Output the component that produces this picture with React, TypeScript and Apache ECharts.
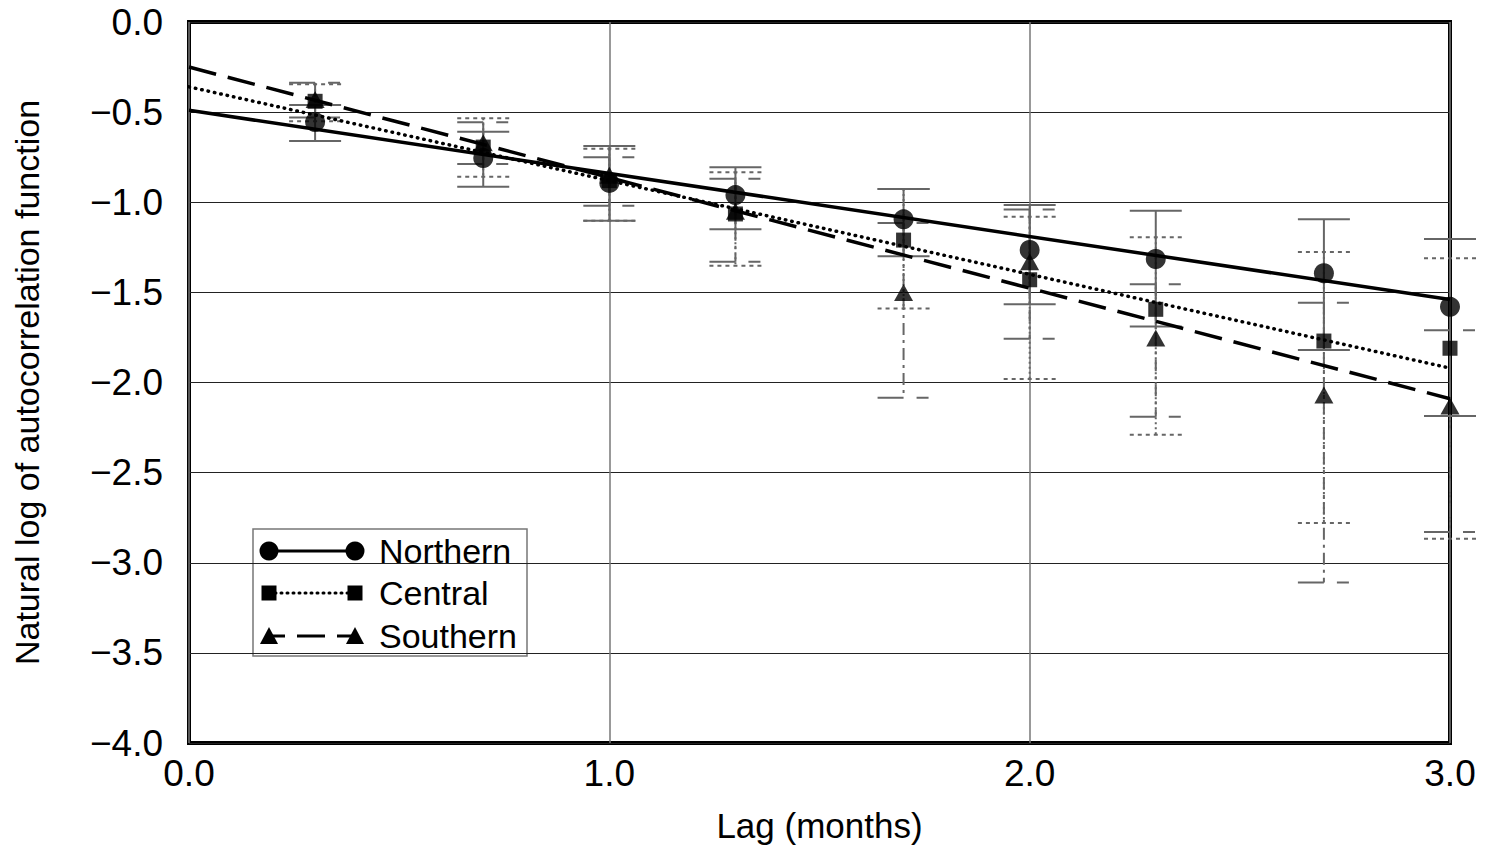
import React, { useEffect, useRef } from "react";
import * as echarts from "echarts";

const lags = [0.3, 0.7, 1.0, 1.3, 1.7, 2.0, 2.3, 2.7, 3.0];

const northernMean = [-0.555, -0.755, -0.893, -0.96, -1.095, -1.265, -1.315, -1.394, -1.58];
const northernUpper = [-0.46, -0.609, -0.688, -0.806, -0.926, -1.015, -1.047, -1.095, -1.204];
const northernLower = [-0.66, -0.914, -1.102, -1.15, -1.3, -1.566, -1.69, -1.82, -2.186];

const centralMean = [-0.44, -0.694, -0.88, -1.065, -1.21, -1.43, -1.594, -1.77, -1.81];
const centralUpper = [-0.346, -0.534, -0.703, -0.834, -0.926, -1.08, -1.194, -1.276, -1.311];
const centralLower = [-0.55, -0.858, -1.102, -1.352, -1.59, -1.98, -2.29, -2.78, -2.867];

const southernMean = [-0.43, -0.67, -0.85, -1.05, -1.5, -1.33, -1.753, -2.07, -2.13];
const southernUpper = [-0.337, -0.556, -0.75, -0.869, -1.115, -1.04, -1.455, -1.557, -1.71];
const southernLower = [-0.53, -0.788, -1.02, -1.33, -2.085, -1.757, -2.19, -3.11, -2.83];

const fitLags = [0, 3];
const northernFit = [-0.49, -1.54];
const centralFit = [-0.36, -1.92];
const southernFit = [-0.25, -2.09];

const seriesNames = ["Northern", "Central", "Southern"];

const FONT = "'Liberation Sans', Arial, Helvetica, sans-serif";
const BAR_COLOR = "#666";

function fmt(v: number) {
  const s = Math.abs(v).toFixed(1);
  return v < 0 ? "\u2212" + s : s;
}

function errorSeries(name: string, lows: number[], highs: number[], vDash: any, capDash: any) {
  return {
    type: "custom",
    name: name + " error",
    z: 2,
    clip: false,
    silent: true,
    data: lags.map((x, i) => [x, lows[i], highs[i]]),
    encode: { x: 0, y: [1, 2] },
    renderItem: (params: any, api: any) => {
      const x = api.value(0);
      const top = api.coord([x, api.value(2)]);
      const bot = api.coord([x, api.value(1)]);
      const hw = 26;
      const base = { stroke: BAR_COLOR, lineWidth: 2, fill: null };
      return {
        type: "group",
        children: [
          {
            type: "line",
            shape: { x1: top[0], y1: top[1], x2: bot[0], y2: bot[1] },
            style: { ...base, lineDash: vDash },
          },
          {
            type: "line",
            shape: { x1: top[0] - hw, y1: top[1], x2: top[0] + hw, y2: top[1] },
            style: { ...base, lineDash: capDash },
          },
          {
            type: "line",
            shape: { x1: bot[0] - hw, y1: bot[1], x2: bot[0] + hw, y2: bot[1] },
            style: { ...base, lineDash: capDash },
          },
        ],
      };
    },
  };
}

function pointSeries(name: string, values: number[], symbol: string, size: any) {
  return {
    type: "scatter",
    name,
    z: 5,
    symbol,
    symbolSize: size,
    itemStyle: { color: "#000" },
    data: lags.map((x, i) => [x, values[i]]),
  };
}

function fitSeries(name: string, values: number[], lineType: any, cap: string) {
  return {
    type: "line",
    name: name + " fit",
    z: 4,
    showSymbol: false,
    symbol: "none",
    silent: true,
    lineStyle: { color: "#000", width: 3.5, type: lineType, cap },
    data: fitLags.map((x, i) => [x, values[i]]),
  };
}

function legendRow(y: number, label: string, kind: number) {
  const x1 = 269;
  const x2 = 355;
  const lineStyles: any[] = [
    { stroke: "#000", lineWidth: 3 },
    { stroke: "#000", lineWidth: 3, lineDash: [1, 5], lineCap: "round" },
    { stroke: "#000", lineWidth: 3, lineDash: [28, 12], lineDashOffset: 12 },
  ];
  const children: any[] = [
    { type: "line", shape: { x1, y1: y, x2, y2: y }, style: lineStyles[kind] },
  ];
  [x1, x2].forEach((cx) => {
    if (kind === 0) {
      children.push({ type: "circle", shape: { cx, cy: y, r: 9.5 }, style: { fill: "#000" } });
    } else if (kind === 1) {
      children.push({ type: "rect", shape: { x: cx - 7.5, y: y - 7.5, width: 15, height: 15 }, style: { fill: "#000" } });
    } else {
      children.push({
        type: "polygon",
        shape: { points: [[cx, y - 9], [cx - 9, y + 8], [cx + 9, y + 8]] },
        style: { fill: "#000" },
      });
    }
  });
  children.push({
    type: "text",
    x: 379,
    y,
    style: { text: label, fontSize: 34, fontFamily: FONT, fill: "#000", verticalAlign: "middle", align: "left" },
  });
  return { type: "group", children };
}

export default function App() {
  const ref = useRef<HTMLDivElement>(null);
  useEffect(() => {
    const chart = echarts.init(ref.current!, null, { renderer: "svg" });
    const option: any = {
      animation: false,
      backgroundColor: "#fff",
      grid: {
        left: 189,
        right: 37,
        top: 22,
        bottom: 111,
        show: true,
        borderColor: "#000",
        borderWidth: 4,
        backgroundColor: "transparent",
      },
      xAxis: {
        type: "value",
        min: 0,
        max: 3,
        interval: 1,
        name: "Lag (months)",
        nameLocation: "middle",
        nameGap: 65,
        nameTextStyle: { fontSize: 35, fontFamily: FONT, color: "#000" },
        axisLine: { show: false },
        axisTick: { show: false },
        axisLabel: { fontSize: 37, fontFamily: FONT, color: "#000", margin: 12, formatter: (v: number) => fmt(v) },
        splitLine: { show: true, lineStyle: { color: "#777", width: 1.5 } },
      },
      yAxis: {
        type: "value",
        min: -4,
        max: 0,
        interval: 0.5,
        name: "Natural log of autocorrelation function",
        nameLocation: "middle",
        nameRotate: 90,
        nameGap: 145,
        nameTextStyle: { fontSize: 34, fontFamily: FONT, color: "#000" },
        axisLine: { show: false },
        axisTick: { show: false },
        axisLabel: { fontSize: 37, fontFamily: FONT, color: "#000", margin: 26, formatter: (v: number) => fmt(v) },
        splitLine: { show: true, lineStyle: { color: "#222", width: 1 } },
      },
      series: [
        errorSeries(seriesNames[0], northernLower, northernUpper, null, null),
        errorSeries(seriesNames[1], centralLower, centralUpper, [2, 3], [4, 4]),
        errorSeries(seriesNames[2], southernLower, southernUpper, [12, 5, 3, 5], [26, 13, 12, 13]),
        fitSeries(seriesNames[0], northernFit, "solid", "butt"),
        fitSeries(seriesNames[1], centralFit, [0.5, 6], "round"),
        fitSeries(seriesNames[2], southernFit, [28, 12], "butt"),
        pointSeries(seriesNames[0], northernMean, "circle", 20),
        pointSeries(seriesNames[1], centralMean, "rect", 15),
        pointSeries(seriesNames[2], southernMean, "triangle", [19, 17]),
      ],
      graphic: [
        {
          type: "group",
          z: 100,
          children: [
            {
              type: "rect",
              shape: { x: 253, y: 529, width: 274, height: 127 },
              style: { fill: "#fff", stroke: "#777", lineWidth: 1.5 },
            },
            legendRow(551, seriesNames[0], 0),
            legendRow(593, seriesNames[1], 1),
            legendRow(636, seriesNames[2], 2),
          ],
        },
      ],
    };
    chart.setOption(option);
    return () => chart.dispose();
  }, []);
  return (
    <div
      ref={ref}
      style={{ position: "fixed", left: 0, top: 0, width: 1487, height: 854, background: "#fff" }}
    />
  );
}
